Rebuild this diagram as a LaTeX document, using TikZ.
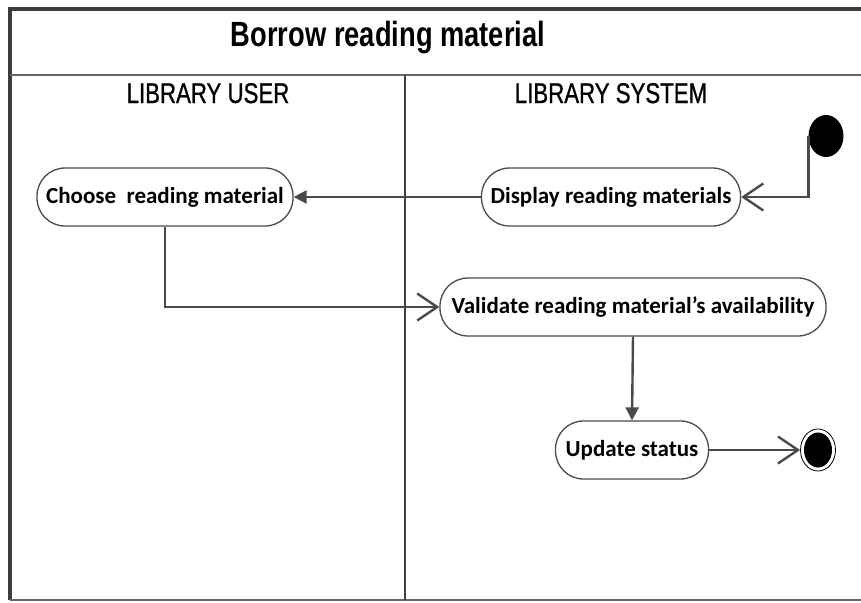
\documentclass[tikz,border=0pt]{standalone}
\usepackage{fontspec}
\newfontfamily\hdrfont[FakeStretch=0.78]{Liberation Sans}
\newfontfamily\hdrfontb[FakeStretch=0.78,FakeBold=0.8]{Liberation Sans}
\newfontfamily\actfont{Carlito}
\usetikzlibrary{arrows.meta,shapes.geometric}
\definecolor{lineg}{HTML}{4A4A4A}
\definecolor{frameg}{HTML}{3C3C3C}
\tikzset{
  actbox/.style={draw=lineg, line width=1.3pt, rounded corners=28pt, fill=white,
    minimum height=58pt, inner sep=0pt, font=\actfont\bfseries\fontsize{23}{27}\selectfont},
  flow/.style={draw=lineg, line width=2.4pt},
  openarr/.style={flow, -{Straight Barb[length=20pt,width=27pt,line width=2.4pt]}},
  fillarr/.style={flow, -{Triangle[length=13pt,width=13pt]}},
  lanehdr/.style={font=\hdrfontb\fontsize{28.5}{31}\selectfont, anchor=base},
}
\begin{document}
\begin{tikzpicture}[x=1pt,y=-1pt]
\useasboundingbox (0,0) rectangle (861,602);
% frame
\draw[frameg, line width=4pt] (10,600) -- (10,9) -- (861,9);
\draw[gray!80!black, line width=2pt] (10,75) -- (861,75);
\draw[gray!80!black, line width=2pt] (10,600) -- (861,600);
\draw[black!75, line width=1.2pt] (405,75) -- (405,600);
% title and lanes
\node[font=\hdrfont\bfseries\fontsize{35}{39}\selectfont, anchor=base] (title) at (388,46) {Borrow reading material};
\node[lanehdr] (laneuser) at (208,103) {LIBRARY USER};
\node[lanehdr] (lanesys) at (611,103) {LIBRARY SYSTEM};
% nodes
\node[ellipse, fill=black, minimum width=35pt, minimum height=42pt, inner sep=0pt] (start) at (826,136) {};
\node[actbox, minimum width=256pt] (choose) at (165,197) {Choose\ \ reading material};
\node[actbox, minimum width=259pt] (display) at (611,197) {Display reading materials};
\node[actbox, minimum width=386pt] (validate) at (633,307) {Validate reading material’s availability};
\node[actbox, minimum width=153pt] (update) at (632,450) {Update status};
\node[ellipse, draw=black, line width=0.8pt, fill=white, minimum width=35pt, minimum height=42pt, inner sep=0pt] (end) at (818,450) {};
\node[ellipse, fill=black, minimum width=28pt, minimum height=35pt, inner sep=0pt] (endin) at (end.center) {};
% connectors
\draw[openarr] (start.west) |- (display.east);
\draw[fillarr] (display.west) -- (choose.east);
\draw[openarr] (choose.south) |- (validate.west);
\draw[fillarr] (validate.south) -- (update.north);
\draw[openarr] (update.east) -- (end.west);
\end{tikzpicture}
\end{document}
